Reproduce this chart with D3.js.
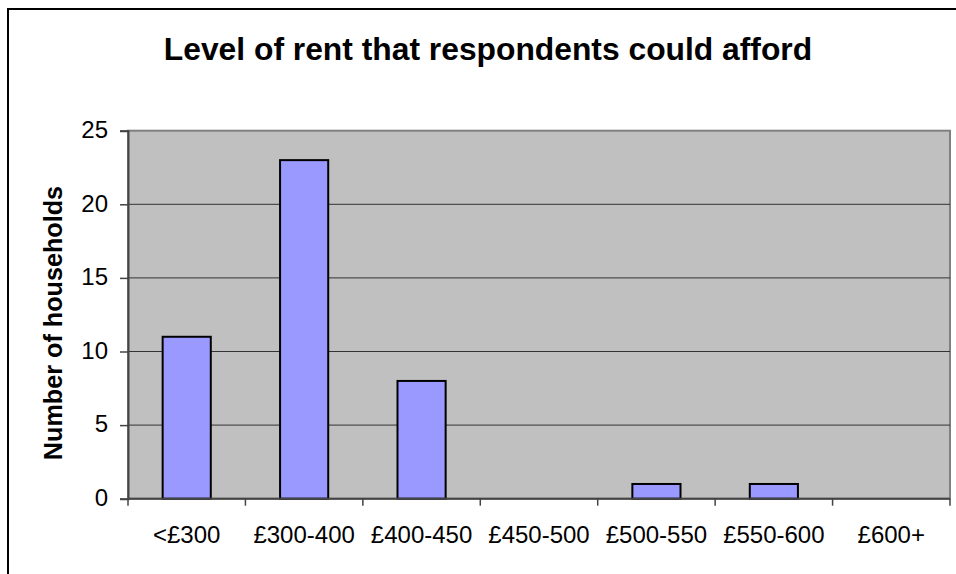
<!DOCTYPE html>
<html>
<head>
<meta charset="utf-8">
<script src="https://cdn.jsdelivr.net/npm/d3@7"></script>
<style>
  html, body { margin: 0; padding: 0; background: #fff; }
  svg { display: block; font-family: Arial, "Liberation Sans", sans-serif; }
</style>
</head>
<body>
<svg id="chart" width="956" height="574"></svg>
<script>
// Rent bands and how many households said they could afford each
const categories = ["<£300", "£300-400", "£400-450", "£450-500", "£500-550", "£550-600", "£600+"];
const households = [11, 23, 8, 0, 1, 1, 0];
const yTicks = [0, 5, 10, 15, 20, 25];

const titleText = "Level of rent that respondents could afford";
const yLabelText = "Number of households";

const svg = d3.select("#chart");
const W = 956, H = 574;
const plot = { left: 128, right: 950, top: 130.7, bottom: 498.7 };

// Outer chart frame
svg.append("rect")
  .attr("x", 8).attr("y", 9)
  .attr("width", W + 20).attr("height", H + 20)
  .attr("fill", "#fff").attr("stroke", "#000").attr("stroke-width", 2);

const x = d3.scaleBand().domain(categories)
  .range([plot.left, plot.right]).paddingInner(0.59).paddingOuter(0.295);
const xCat = d3.scaleBand().domain(categories)
  .range([plot.left, plot.right]).padding(0);
const y = d3.scaleLinear().domain([0, 25]).range([plot.bottom, plot.top]);

// Plot background
svg.append("rect")
  .attr("x", plot.left).attr("y", plot.top)
  .attr("width", plot.right - plot.left).attr("height", plot.bottom - plot.top)
  .attr("fill", "#c0c0c0").attr("stroke", "#808080").attr("stroke-width", 2);

// Horizontal gridlines
svg.append("g").selectAll("line")
  .data(yTicks.filter(d => d > 0 && d < 25))
  .join("line")
  .attr("x1", plot.left).attr("x2", plot.right)
  .attr("y1", d => y(d)).attr("y2", d => y(d))
  .attr("stroke", "#333").attr("stroke-width", 1);

// Bars
svg.append("g").selectAll("rect")
  .data(categories.map((c, i) => ({ c, v: households[i] })).filter(d => d.v > 0))
  .join("rect")
  .attr("x", d => x(d.c))
  .attr("y", d => y(d.v))
  .attr("width", x.bandwidth())
  .attr("height", d => y(0) - y(d.v))
  .attr("fill", "#9999ff").attr("stroke", "#000").attr("stroke-width", 2);

// Y axis
const yAxis = d3.axisLeft(y).tickValues(yTicks).tickSize(8).tickPadding(12);
const gy = svg.append("g").attr("transform", `translate(${plot.left},0)`).call(yAxis);
gy.select(".domain").attr("stroke", "#444").attr("stroke-width", 2);
gy.selectAll(".tick line").attr("stroke", "#444").attr("stroke-width", 1.5);
gy.selectAll(".tick text")
  .attr("font-size", 24).attr("font-family", "Arial, 'Liberation Sans', sans-serif")
  .attr("fill", "#000").attr("dy", "0.28em");

// X axis: ticks at category boundaries, labels at category centres
const gx = svg.append("g").attr("transform", `translate(0,${plot.bottom})`);
gx.append("line")
  .attr("x1", plot.left).attr("x2", plot.right)
  .attr("stroke", "#444").attr("stroke-width", 2);
const bounds = categories.map(c => xCat(c)).concat([plot.right]);
gx.selectAll("line.tick")
  .data(bounds).join("line").attr("class", "tick")
  .attr("x1", d => d).attr("x2", d => d)
  .attr("y1", 0).attr("y2", 7)
  .attr("stroke", "#444").attr("stroke-width", 1.5);
gx.selectAll("text")
  .data(categories).join("text")
  .attr("x", d => xCat(d) + xCat.bandwidth() / 2)
  .attr("y", 44.6)
  .attr("text-anchor", "middle")
  .attr("font-size", 24)
  .attr("fill", "#000")
  .text(d => d);

// Title
svg.append("text")
  .attr("x", 488).attr("y", 60)
  .attr("text-anchor", "middle")
  .attr("font-size", 31.8).attr("font-weight", "bold")
  .text(titleText);

// Y axis title
svg.append("text")
  .attr("transform", "translate(61.5,323) rotate(-90)")
  .attr("text-anchor", "middle")
  .attr("font-size", 25.2).attr("font-weight", "bold")
  .text(yLabelText);
</script>
</body>
</html>
